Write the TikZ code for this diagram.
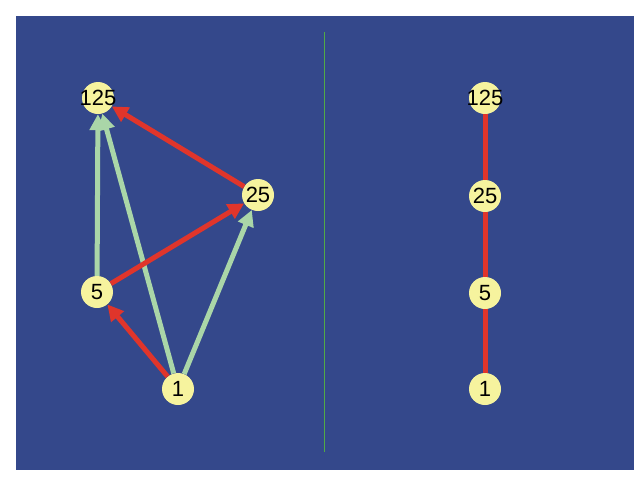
\documentclass[tikz,border=0pt]{standalone}
\usepackage{fontspec}
\setmainfont{Liberation Sans}
\usetikzlibrary{arrows.meta}
\definecolor{bgblue}{RGB}{52,72,139}
\definecolor{nodeyellow}{RGB}{246,243,158}
\definecolor{edgered}{RGB}{224,53,43}
\definecolor{edgegreen}{RGB}{170,214,168}
\definecolor{splitgreen}{RGB}{80,170,70}
\newcommand{\divlabel}[1]{\makebox[0pt]{#1}}
\tikzset{
  num/.style={circle, fill=nodeyellow, minimum size=32pt, inner sep=0pt, font=\fontsize{22}{24}\selectfont},
  cover/.style={edgered, line width=5pt, -{Triangle[length=16pt,width=16pt]}},
  other/.style={edgegreen, line width=5pt, -{Triangle[length=16pt,width=16pt]}},
  hasse/.style={edgered, line width=5pt}
}
\begin{document}
\begin{tikzpicture}[x=1pt,y=-1pt]
\useasboundingbox (0,0) rectangle (640,480);
\fill[white] (0,0) rectangle (640,480);
\fill[bgblue] (16,16) rectangle (634,470);
\draw[splitgreen, line width=0.8pt] (324,32) -- (324,452);

% divisor graph
\node[num] (a1) at (178,389) {\divlabel{1}};
\node[num] (a5) at (97,292) {\divlabel{5}};
\node[num] (a25) at (258,195) {\divlabel{25}};
\node[num] (a125) at (98,98) {\divlabel{125}};

\draw[other] (a1) -- (a125);
\draw[other] (a1) -- (a25);
\draw[other] (a5) -- (a125);
\draw[cover] (a1) -- (a5);
\draw[cover] (a5) -- (a25);
\draw[cover] (a25) -- (a125);

% hasse diagram
\node[num] (b1) at (485,389) {\divlabel{1}};
\node[num] (b5) at (485,293) {\divlabel{5}};
\node[num] (b25) at (485,196) {\divlabel{25}};
\node[num] (b125) at (485,98) {\divlabel{125}};

\draw[hasse] (b1) -- (b5);
\draw[hasse] (b5) -- (b25);
\draw[hasse] (b25) -- (b125);

\end{tikzpicture}
\end{document}
